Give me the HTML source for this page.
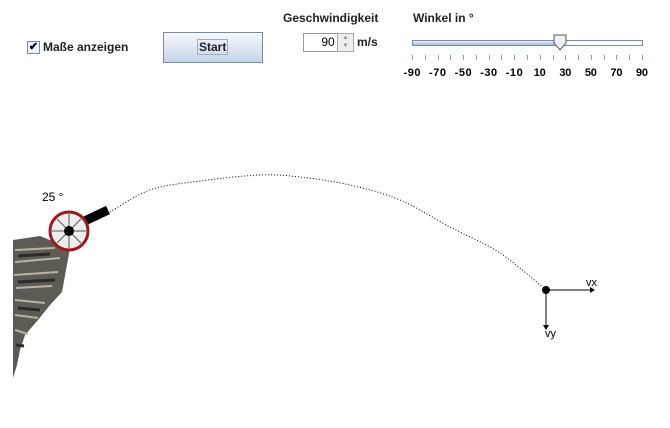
<!DOCTYPE html>
<html><head><meta charset="utf-8"><style>
body{margin:0;width:670px;height:428px;background:#fff;overflow:hidden;font-family:"Liberation Sans",sans-serif;position:relative}
.abs{position:absolute}
.lbl{font-size:12px;font-weight:bold;color:#222}
</style></head><body>
<div class="abs" style="left:27px;top:41px;width:11px;height:11px;border:1px solid #7a8aa8;background:#eef2f8;font-size:11px;line-height:11px;text-align:center;font-weight:bold">✔</div>
<div class="abs lbl" style="left:43px;top:40px">Maße anzeigen</div>
<div class="abs" style="left:163px;top:32px;width:98px;height:29px;border:1px solid #7a8aa8;background:linear-gradient(#f6f9fd,#c5d4e8);">
<div class="lbl" style="position:absolute;left:33px;top:6px;border:1px solid #aab;padding:0 1px">Start</div></div>
<div class="abs lbl" style="left:283px;top:11px">Geschwindigkeit</div>
<div class="abs" style="left:303px;top:33px;width:34px;height:17px;border:1px solid #999;border-right:none;font-size:12px;text-align:right;line-height:17px">90&nbsp;</div>
<div class="abs" style="left:337px;top:33px;width:15px;height:17px;border:1px solid #aaa;background:#eee;font-size:6px;line-height:8px;text-align:center;color:#888">▲<br>▼</div>
<div class="abs lbl" style="left:357px;top:35px">m/s</div>
<div class="abs lbl" style="left:413px;top:11px">Winkel in °</div>
<svg class="abs" style="left:0;top:0" width="670" height="428">
<defs><linearGradient id="tr" x1="0" y1="0" x2="0" y2="1"><stop offset="0" stop-color="#e8eef8"/><stop offset="1" stop-color="#a9bcd8"/></linearGradient></defs>
<rect x="412.5" y="40.5" width="230" height="5" fill="#fff" stroke="#7a8aa8"/>
<rect x="413" y="41" width="147" height="4" fill="url(#tr)"/>
<g id="ticks"></g>
<path d="M554,35 h12 v8 l-6,7 l-6,-7z" fill="#eef3fa" stroke="#556"/>
<g>
<path d="M13,240 L40,236 L60,244 L70,248 L66,270 L62,292 L50,305 L38,320 L25,335 L20,350 L17,365 L13,378 Z" fill="#5e5b55"/>
<path d="M15,250 L55,248 M15,262 L60,258 M14,275 L58,272 M16,288 L52,286 M15,300 L45,303 M15,315 L38,318 M15,330 L28,334" stroke="#b8b3a6" stroke-width="2"/>
<path d="M18,256 L50,254 M18,282 L55,280 M18,308 L40,310 M16,345 L24,346" stroke="#2a2a28" stroke-width="3"/>
</g>
<g>
<line x1="70" y1="228" x2="108" y2="210" stroke="#000" stroke-width="9"/>
<circle cx="69" cy="231" r="19" fill="#eee" stroke="#a01818" stroke-width="3"/>
<g stroke="#555" stroke-width="1"><line x1="52" y1="231" x2="86" y2="231"/><line x1="69" y1="214" x2="69" y2="248"/><line x1="57" y1="219" x2="81" y2="243"/><line x1="81" y1="219" x2="57" y2="243"/></g>
<circle cx="69" cy="231" r="5" fill="#000"/>
</g>
<text x="42" y="201" font-size="12" font-family="Liberation Sans">25 °</text>
<path id="traj" fill="none" stroke="#000" stroke-width="1" stroke-dasharray="1,2"/>
<g>
<circle cx="546" cy="290" r="4" fill="#000"/>
<line x1="546" y1="290" x2="590" y2="290" stroke="#000"/><path d="M590,287 l5,3 l-5,3z"/>
<line x1="546" y1="290" x2="546" y2="325" stroke="#000"/><path d="M543,325 l3,5 l3,-5z"/>
<text x="586" y="286" font-size="11" font-family="Liberation Sans">vx</text>
<text x="545" y="337" font-size="11" font-family="Liberation Sans">vy</text>
</g>
</svg>
<script>
const trajX=[110,150,200,260,300,350,400,450,500,546];
const trajY=[212,190,181,175,177,185,200,227,253,290];
const tickLabels=[-90,-70,-50,-30,-10,10,30,50,70,90];
const angleValue=25;
const sx=v=>412+(v+90)*230/180;
const pts=trajX.map((x,i)=>[x,trajY[i]]);
let d='M'+pts[0].join(',');
for(let i=0;i<pts.length-1;i++){
  const p0=pts[Math.max(i-1,0)],p1=pts[i],p2=pts[i+1],p3=pts[Math.min(i+2,pts.length-1)];
  const c1=[p1[0]+(p2[0]-p0[0])/6,p1[1]+(p2[1]-p0[1])/6];
  const c2=[p2[0]-(p3[0]-p1[0])/6,p2[1]-(p3[1]-p1[1])/6];
  d+=' C'+c1.join(',')+' '+c2.join(',')+' '+p2.join(',');
}
document.getElementById('traj').setAttribute('d',d);
const g=document.getElementById('ticks');
const ns='http://www.w3.org/2000/svg';
for(let v=-90;v<=90;v+=10){const l=document.createElementNS(ns,'line');


const x=Math.round(sx(v))+0.5;l.setAttribute('x1',x);l.setAttribute('x2',x);l.setAttribute('y1',55);l.setAttribute('y2',60);l.setAttribute('stroke','#8aa0c0');g.appendChild(l);}
tickLabels.forEach(v=>{const t=document.createElementNS(ns,'text');


t.setAttribute('x',sx(v));t.setAttribute('y',76);t.setAttribute('text-anchor','middle');t.setAttribute('font-size','11');t.setAttribute('font-weight','bold');t.setAttribute('font-family','Liberation Sans');t.setAttribute('textLength',v<0?17:(Math.abs(v)>=10?12:6));t.textContent=v;g.appendChild(t);});
</script>
</body></html>
